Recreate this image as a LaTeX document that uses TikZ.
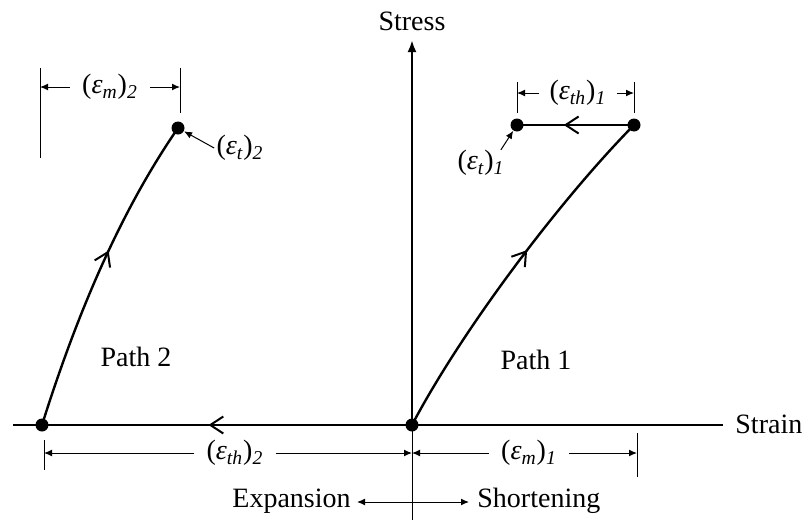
\documentclass[tikz,border=0pt]{standalone}
\usepackage{fontspec}
\setmainfont{Liberation Serif}
\usetikzlibrary{arrows.meta,decorations.markings}
\newcommand\epsi[1]{\textit{ε\textsubscript{#1}}}
\newcommand\subi[1]{\textsubscript{\textit{#1}}}
\begin{document}
\begin{tikzpicture}[x=0.5pt,y=-0.5pt,
  dot/.style={circle,fill,inner sep=0pt,minimum size=6.5pt},
  mainline/.style={line width=1.2pt},
  thinline/.style={line width=0.5pt},
  dimarrow/.style={thinline,-{Latex[length=4pt,width=3.4pt]}},
  midarrow/.style={decoration={markings,mark=at position #1 with {\arrow{Straight Barb[length=6.5pt,width=8.5pt,line width=1pt]}}},postaction={decorate}},
  lbl/.style={inner sep=1pt},
  every node/.style={font=\fontsize{14}{16}\selectfont}
]
\useasboundingbox (0,0) rectangle (805,520);

% axes
\coordinate (xl) at (13,425);
\coordinate (xr) at (723,425);
\coordinate (ytop) at (412,40);
\node[dot] (O) at (412,425) {};
\node[dot] (L) at (42,425) {};
\node[dot] (T2) at (178,128) {};
\node[dot] (T1a) at (517,125) {};
\node[dot] (T1b) at (634,125) {};

\draw[mainline] (xl) -- (xr);
\node[anchor=west,inner sep=0pt] (strain) at (735,424) {Strain};
\draw[mainline,-{Latex[length=6pt,width=4.5pt]}] (O.center) -- (ytop);
\node (stress) at (412,21) {Stress};

% bottom thin vertical line
\coordinate (vb) at (412,520);
\draw[thinline] (O.center) -- (vb);

% thermal expansion path 2 along axis
\draw[mainline,midarrow=0.55] (O.center) -- (L.center);
% path 2 curve
\draw[mainline,midarrow=0.57] (L.center) .. controls (75,320) and (118,215) .. (T2.center);
% path 1 curve
\draw[mainline,midarrow=0.56] (O.center) .. controls (462,330) and (560,200) .. (T1b.center);
% top horizontal
\draw[mainline,midarrow=0.6] (T1b.center) -- (T1a.center);

\node (p2) at (136,357) {Path 2};
\node (p1) at (536,360) {Path 1};

% (eps_m)_2 dimension
\coordinate (m2a) at (40,68); \coordinate (m2b) at (40,158);
\coordinate (m2c) at (180,68); \coordinate (m2d) at (180,113);
\draw[thinline] (m2a) -- (m2b);
\draw[thinline] (m2c) -- (m2d);
\node[lbl,inner sep=6pt] (em2) at (110,87) {(\epsi{m})\subi{2}};
\coordinate (em2l) at (40,87); \coordinate (em2r) at (180,87);
\draw[dimarrow] (em2.west) -- (em2l);
\draw[dimarrow] (em2.east) -- (em2r);

% (eps_t)_2 label
\node[lbl] (et2) at (240,148) {(\epsi{t})\subi{2}};
\draw[dimarrow] (et2.west) -- (T2);

% (eps_th)_1 dimension
\coordinate (th1a) at (517,82); \coordinate (th1b) at (517,113);
\coordinate (th1c) at (634,82); \coordinate (th1d) at (634,113);
\draw[thinline] (th1a) -- (th1b);
\draw[thinline] (th1c) -- (th1d);
\node[lbl,inner sep=5pt] (eth1) at (578,93) {(\epsi{th})\subi{1}};
\coordinate (eth1l) at (517,93); \coordinate (eth1r) at (634,93);
\draw[dimarrow] (eth1.west) -- (eth1l);
\draw[dimarrow] (eth1.east) -- (eth1r);

% (eps_t)_1 label
\node[lbl] (et1) at (481,163) {(\epsi{t})\subi{1}};
\draw[dimarrow] ([xshift=-3pt,yshift=-1pt]et1.north east) -- (T1a);

% bottom dimensions
\coordinate (b2a) at (44,440); \coordinate (b2b) at (44,470);
\draw[thinline] (b2a) -- (b2b);
\coordinate (b1a) at (637,433); \coordinate (b1b) at (637,477);
\draw[thinline] (b1a) -- (b1b);
\node[lbl,inner sep=6pt] (eth2) at (235,453) {(\epsi{th})\subi{2}};
\coordinate (eth2l) at (44,453); \coordinate (bmid) at (412,453);
\draw[dimarrow] (eth2.west) -- (eth2l);
\draw[dimarrow] (eth2.east) -- (bmid);
\node[lbl,inner sep=6pt] (em1) at (529,453) {(\epsi{m})\subi{1}};
\coordinate (em1r) at (637,453);
\draw[dimarrow] (em1.west) -- (bmid);
\draw[dimarrow] (em1.east) -- (em1r);

% expansion / shortening
\coordinate (es) at (412,502);
\coordinate (esl) at (357,502);
\coordinate (esr) at (469,502);
\node[anchor=east,inner sep=0pt] (exp) at (351,501) {Expansion};
\node[anchor=west,inner sep=0pt] (sho) at (477,501) {Shortening};
\draw[dimarrow] (es) -- (esl);
\draw[dimarrow] (es) -- (esr);
\end{tikzpicture}
\end{document}
